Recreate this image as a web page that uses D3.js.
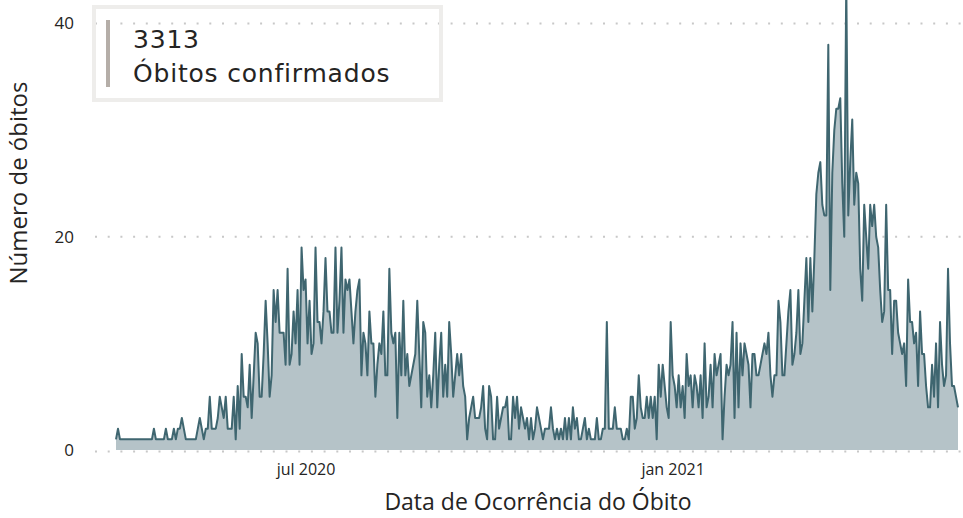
<!DOCTYPE html>
<html>
<head>
<meta charset="utf-8">
<script src="https://d3js.org/d3.v7.min.js"></script>
<style>
  body { margin: 0; background: #ffffff; }
  svg text { font-family: "Open Sans", sans-serif; fill: #252423; }
</style>
</head>
<body>
<div id="chart"></div>
<script>
// Daily deaths, first day = 28 mar 2020
var startDate = new Date(2020, 2, 28);
var dailyDeaths = [
    1, 2, 1, 1, 1, 1, 1, 1, 1, 1, 1, 1, 1, 1, 1, 1, 1, 1, 1, 2, 1, 1, 1, 1, 1, 2, 1, 1, 1, 2,
    1, 2, 2, 3, 2, 1, 1, 1, 1, 1, 1, 2, 3, 2, 1, 2, 2, 5, 2, 2, 2, 3, 5, 4, 3, 5, 2, 2, 2, 5,
    1, 6, 2, 9, 5, 5, 4, 8, 3, 7, 11, 10, 5, 5, 9, 14, 10, 5, 7, 15, 12, 15, 11, 11, 11, 8, 17, 8, 9, 13,
    10, 15, 8, 19, 15, 16, 10, 14, 9, 10, 19, 12, 12, 10, 13, 18, 13, 13, 11, 11, 19, 11, 14, 19, 11, 16, 15, 16, 13, 10,
    13, 15, 16, 7, 11, 10, 7, 13, 10, 10, 5, 8, 10, 9, 13, 7, 7, 17, 11, 10, 11, 3, 11, 7, 14, 7, 9, 6, 7, 8,
    9, 14, 9, 4, 12, 11, 5, 7, 4, 7, 11, 4, 8, 11, 5, 8, 5, 12, 9, 5, 7, 9, 7, 9, 6, 5, 1, 3, 4, 5,
    3, 3, 3, 4, 6, 2, 1, 6, 5, 1, 1, 5, 2, 3, 4, 4, 5, 1, 1, 5, 3, 5, 2, 4, 3, 2, 3, 1, 3, 1,
    2, 4, 3, 2, 1, 2, 2, 2, 4, 2, 1, 2, 1, 2, 1, 3, 1, 3, 1, 4, 2, 3, 1, 1, 2, 3, 1, 2, 1, 1,
    1, 3, 1, 1, 2, 2, 12, 2, 2, 2, 4, 2, 2, 2, 1, 1, 2, 1, 5, 5, 2, 3, 7, 4, 3, 3, 5, 3, 5, 3,
    5, 1, 8, 5, 8, 6, 4, 3, 12, 7, 6, 4, 7, 4, 6, 3, 9, 6, 7, 4, 7, 6, 4, 7, 3, 10, 4, 5, 8, 4,
    9, 7, 8, 9, 1, 5, 8, 7, 8, 12, 3, 11, 4, 10, 7, 10, 9, 8, 4, 9, 9, 7, 7, 8, 9, 10, 9, 11, 7, 5,
    7, 7, 14, 12, 7, 7, 10, 13, 15, 8, 9, 11, 15, 9, 10, 14, 18, 12, 18, 13, 18, 24, 26, 27, 23, 22, 22, 38, 15, 26,
    30, 32, 32, 33, 25, 20, 44, 22, 27, 31, 23, 26, 25, 17, 14, 23, 20, 17, 23, 21, 23, 20, 19, 15, 12, 13, 23, 15, 15, 9,
    14, 14, 11, 10, 9, 10, 6, 16, 12, 12, 10, 11, 6, 13, 9, 9, 6, 4, 4, 8, 5, 10, 4, 12, 8, 6, 7, 17, 10, 6,
    6, 5, 4
];

var yTickValues = [0, 20, 40];
var xTickDates = [new Date(2020, 6, 1), new Date(2021, 0, 1)];
var xTickLabels = ["jul 2020", "jan 2021"];
var kpiValue = "3313";
var kpiLabel = "Óbitos confirmados";

var svgWidth = 963;
var svgHeight = 518;

// Build {date, value} rows from the arrays
var data = dailyDeaths.map(function (v, i) {
    return { date: d3.timeDay.offset(startDate, i), value: v };
});

var svg = d3.select("#chart")
    .append("svg")
    .attr("width", svgWidth)
    .attr("height", svgHeight);

// Scales
var xScale = d3.scaleTime()
    .domain(d3.extent(data, d => d.date))
    .range([116, 958]);

var yScale = d3.scaleLinear()
    .domain([0, 40])
    .range([450, 23.5]);

// Clip so the big spike is cut at the top edge
svg.append("clipPath")
    .attr("id", "plotClip")
    .append("rect")
    .attr("x", 0)
    .attr("y", 0)
    .attr("width", svgWidth)
    .attr("height", 451);

// Dotted gridlines
svg.append("g")
    .selectAll("line")
    .data(yTickValues)
    .enter()
    .append("line")
    .attr("x1", 95)
    .attr("x2", 961)
    .attr("y1", d => d === 0 ? yScale(d) + 1.5 : yScale(d))
    .attr("y2", d => d === 0 ? yScale(d) + 1.5 : yScale(d))
    .attr("stroke", "#c8c8c8")
    .attr("stroke-width", 2)
    .attr("stroke-dasharray", "2,10.7");

// Area + line
var area = d3.area()
    .x(d => xScale(d.date))
    .y0(yScale(0))
    .y1(d => yScale(d.value));

var line = d3.line()
    .x(d => xScale(d.date))
    .y(d => yScale(d.value));

var plot = svg.append("g")
    .attr("clip-path", "url(#plotClip)");

plot.append("path")
    .datum(data)
    .attr("d", area)
    .attr("fill", "#b5c3c8");

plot.append("path")
    .datum(data)
    .attr("d", line)
    .attr("fill", "none")
    .attr("stroke", "#3f6670")
    .attr("stroke-width", 2)
    .attr("stroke-linejoin", "round");

// Y axis tick labels
var yAxis = d3.axisLeft(yScale)
    .tickValues(yTickValues)
    .tickSize(0)
    .tickPadding(0);

svg.append("g")
    .attr("transform", "translate(74, 0)")
    .call(yAxis)
    .call(g => g.select(".domain").remove())
    .selectAll("text")
    .style("font-family", "'Open Sans', sans-serif")
    .style("font-size", "17px")
    .attr("fill", "#252423");

// X axis tick labels
var xAxis = d3.axisBottom(xScale)
    .tickValues(xTickDates)
    .tickFormat((d, i) => xTickLabels[i])
    .tickSize(0)
    .tickPadding(0);

svg.append("g")
    .attr("transform", "translate(0, 464)")
    .call(xAxis)
    .call(g => g.select(".domain").remove())
    .selectAll("text")
    .style("font-family", "'Open Sans', sans-serif")
    .style("font-size", "16px")
    .attr("fill", "#252423");

// Axis titles
svg.append("text")
    .attr("x", 538)
    .attr("y", 510)
    .attr("text-anchor", "middle")
    .style("font-size", "23px")
    .text("Data de Ocorrência do Óbito");

svg.append("text")
    .attr("transform", "rotate(-90)")
    .attr("x", -183)
    .attr("y", 27)
    .attr("text-anchor", "middle")
    .style("font-size", "24px")
    .text("Número de óbitos");

// KPI card
var card = svg.append("g");

card.append("rect")
    .attr("x", 94)
    .attr("y", 7)
    .attr("width", 347)
    .attr("height", 93)
    .attr("fill", "none")
    .attr("stroke", "#eeedeb")
    .attr("stroke-width", 4);

card.append("rect")
    .attr("x", 106)
    .attr("y", 20)
    .attr("width", 4)
    .attr("height", 67)
    .attr("fill", "#b5aea8");

card.append("text")
    .attr("x", 133)
    .attr("y", 48)
    .style("font-family", "'DejaVu Sans', sans-serif")
    .style("font-size", "25px")
    .style("letter-spacing", "0.8px")
    .text(kpiValue);

card.append("text")
    .attr("x", 133)
    .attr("y", 82)
    .style("font-family", "'DejaVu Sans', sans-serif")
    .style("font-size", "25px")
    .style("letter-spacing", "0.8px")
    .text(kpiLabel);
</script>
</body>
</html>
